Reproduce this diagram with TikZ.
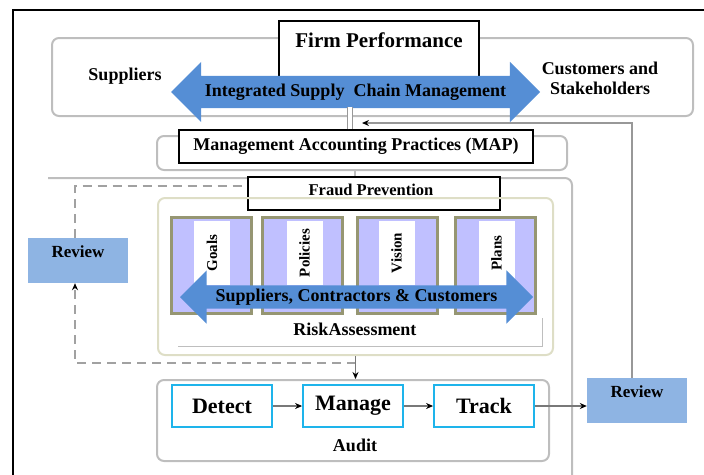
\documentclass[tikz,border=0pt]{standalone}
\usepackage{fontspec}
\setmainfont{Liberation Serif}
\usepackage{xcolor}
\usetikzlibrary{shapes.arrows,arrows.meta}
\definecolor{arrowblue}{RGB}{85,142,213}
\definecolor{reviewblue}{RGB}{142,180,227}
\definecolor{lavender}{RGB}{192,192,255}
\definecolor{pillarshade}{RGB}{150,150,115}
\definecolor{riskbeige}{RGB}{222,222,198}
\definecolor{framegray}{RGB}{190,190,190}
\definecolor{linkgray}{RGB}{120,120,120}
\definecolor{stepcyan}{RGB}{30,180,235}

\begin{document}
\begin{tikzpicture}[x=1pt,y=-1pt,
    frame/.style={draw=framegray, line width=2pt, rounded corners=7pt},
    labelbox/.style={draw=black, line width=1.2pt, fill=white},
    txt/.style={font=\bfseries\fontsize{18}{20}\selectfont, inner sep=0pt, align=center},
    bigarrow/.style={double arrow, fill=arrowblue, inner xsep=0pt, text height=12pt, text depth=4pt, font=\bfseries\fontsize{18}{20}\selectfont},
    pillar/.style={draw=pillarshade, line width=3pt, fill=lavender, minimum width=80pt, minimum height=96pt},
    tagbox/.style={fill=white, rotate=90, minimum width=64pt, minimum height=36pt, inner sep=0pt, font=\bfseries\fontsize{15}{15}\selectfont},
    stepbox/.style={draw=stepcyan, line width=1.8pt, fill=white, minimum width=100pt, minimum height=42pt, font=\bfseries\fontsize{22}{22}\selectfont},
    reviewbox/.style={fill=reviewblue, minimum width=100pt, minimum height=45pt},
    link/.style={draw=linkgray, line width=1.3pt},
    tip/.style={-{Stealth[length=7pt,width=6pt,color=black]}},
    dashline/.style={draw=framegray!85!black, line width=2pt, dash pattern=on 9pt off 6pt}]
    \useasboundingbox (0,0) rectangle (704,474);
    \draw[line width=2pt] (13,480) -- (13,10) -- (712,10);

    %Supply chain
    \node[frame, minimum width=641pt, minimum height=78pt] (chain) at (372.5,77) {};
    \node[txt] (supp) at (125,76) {Suppliers};
    \node[txt] (cust) at (600,78) {Customers and\\Stakeholders};
    \node[labelbox, minimum width=200pt, minimum height=72pt] (firmbox) at (379,57) {};
    \node[txt, font=\bfseries\fontsize{21}{21}\selectfont] (firm) at (379,40) {Firm Performance};
    \node[bigarrow, inner ysep=8pt, double arrow head extend=14pt, minimum height=369pt] (iscm) at (355.5,92) {Integrated Supply\ \ Chain Management};

    %MAP
    \node[frame, minimum width=410pt, minimum height=34pt] (mapframe) at (362,153) {};
    \node[labelbox, minimum width=354pt, minimum height=33pt, txt] (map) at (356,146.5) {Management Accounting Practices (MAP)};
    \draw[link, draw=framegray!80!black, line width=1.2pt, double, double distance=4.5pt] ([xshift=-6pt]map.north) -- ++(0,-22);

    %Fraud Prevention
    \draw[frame] (48,178) -- (572,178) -- (572,478);
    \draw[link, draw=framegray] ([xshift=-7pt]mapframe.south) -- ++(0,8);
    \node[labelbox, minimum width=252pt, minimum height=33pt] (fraudbox) at (374,193.5) {};
    \node[txt, font=\bfseries\fontsize{16.5}{17}\selectfont] (fraud) at (371,190) {Fraud Prevention};

    %Risk Assessment
    \node[frame, draw=riskbeige, minimum width=395pt, minimum height=157pt] (risk) at (355.5,276.5) {};
    \draw[draw=framegray, line width=1pt] (178,346) -- (542,346) -- (542,318);
    \node[pillar] (goalsbar) at (211,265.5) {};
    \node[pillar] (polbar) at (302,265.5) {};
    \node[pillar] (visbar) at (397,265.5) {};
    \node[pillar] (plansbar) at (495,265.5) {};
    \node[tagbox] (goals) at (212,253) {Goals};
    \node[tagbox] (policies) at (304.5,253) {Policies};
    \node[tagbox] (vision) at (396.5,253) {Vision};
    \node[tagbox] (plans) at (496.5,253) {Plans};
    \node[bigarrow, inner ysep=3.5pt, double arrow head extend=15pt, minimum height=353pt] (scc) at (356.5,297) {Suppliers, Contractors \& Customers};
    \node[txt] (riskass) at (355,329) {RiskAssessment};

    %Review loop (left)
    \node[reviewbox] (revL) at (78,260.5) {};
    \node[txt, font=\bfseries\fontsize{17}{17}\selectfont] (revLtxt) at (78,252) {Review};
    \coordinate (dashturn) at (risk.south |- 0,363);
    \draw[dashline, tip] (dashturn) -| ([xshift=-3pt]revL.south);
    \draw[dashline] ([xshift=-3pt]revL.north) |- ([yshift=8pt]fraudbox.west);

    %Audit
    \node[frame, minimum width=392pt, minimum height=81pt] (audit) at (353,420.5) {};
    \draw[link, tip] (risk.south) -- (risk.south |- audit.north);
    \node[stepbox] (detect) at (222,406) {Detect};
    \node[stepbox] (manage) at (353,406) {Manage};
    \node[stepbox] (track) at (484,406) {Track};
    \draw[link, tip] (detect) -- (manage);
    \draw[link, tip] (manage) -- (track);
    \node[txt] (audittxt) at (355,445) {Audit};

    %Review loop (right)
    \node[reviewbox] (revR) at (637,400.5) {};
    \node[txt, font=\bfseries\fontsize{17}{17}\selectfont] (revRtxt) at (637,392) {Review};
    \draw[link, tip] (track.east) -- (track.east -| revR.west);
    \coordinate (mapfeed) at (362,123);
    \draw[link, draw=framegray!80!black, tip] ([xshift=-5pt]revR.north) |- (mapfeed);
\end{tikzpicture}
\end{document}
